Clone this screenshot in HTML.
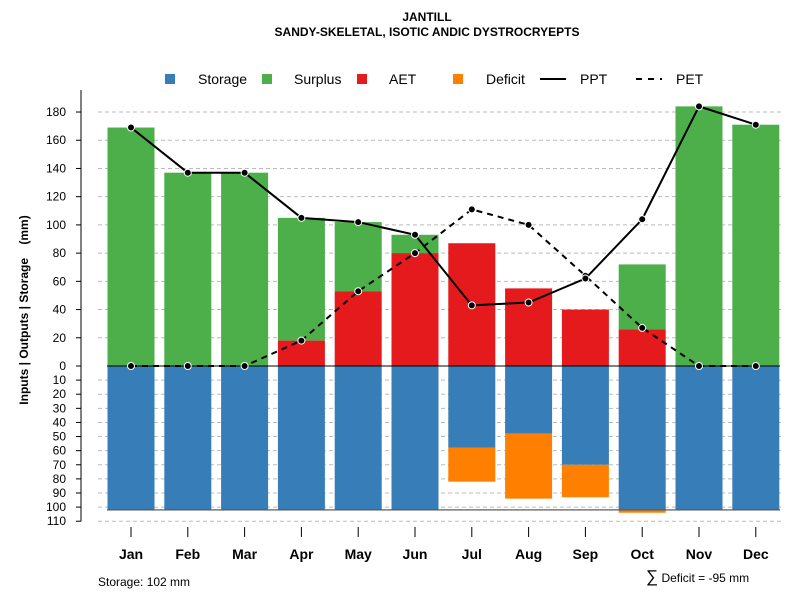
<!DOCTYPE html>
<html><head><meta charset="utf-8"><style>
body{margin:0;background:#fff;font-family:"Liberation Sans",sans-serif;}
svg text{font-family:"Liberation Sans",sans-serif;}
</style></head><body>
<svg id="c" width="800" height="600" xmlns="http://www.w3.org/2000/svg">
<text x="427" y="21" text-anchor="middle" font-size="12" font-weight="bold">JANTILL</text>
<text x="427" y="36" text-anchor="middle" font-size="12" font-weight="bold">SANDY-SKELETAL, ISOTIC ANDIC DYSTROCRYEPTS</text>
<g>
<rect x="165" y="74" width="10" height="10" fill="#377eb8"/>
<text x="198" y="84" font-size="14">Storage</text>
<rect x="262" y="74" width="10" height="10" fill="#4daf4a"/>
<text x="294" y="84" font-size="14">Surplus</text>
<rect x="357" y="74" width="10" height="10" fill="#e41a1c"/>
<text x="389" y="84" font-size="14">AET</text>
<rect x="453" y="74" width="10" height="10" fill="#ff7f00"/>
<text x="486" y="84" font-size="14">Deficit</text>
<line x1="540" y1="79" x2="566" y2="79" stroke="#000" stroke-width="2"/>
<text x="580" y="84" font-size="14">PPT</text>
<line x1="636" y1="79" x2="662" y2="79" stroke="#000" stroke-width="2" stroke-dasharray="6,6"/>
<text x="676" y="84" font-size="14">PET</text>
</g>
<text transform="translate(28,310) rotate(-90)" text-anchor="middle" font-size="12" font-weight="bold" xml:space="preserve" style="white-space:pre">Inputs | Outputs | Storage    (mm)</text>
<text x="98" y="586" font-size="12">Storage: 102 mm</text>
<text x="646" y="582" font-size="12"><tspan font-size="17">∑</tspan> Deficit = -95 mm</text>
<g id="g"></g>
</svg>
<script>
const months=["Jan","Feb","Mar","Apr","May","Jun","Jul","Aug","Sep","Oct","Nov","Dec"];
const ppt=[169,137,137,105,102,93,43,45,62,104,184,171];
const pet=[0,0,0,18,53,80,111,100,64,27,0,0];
const aet=[0,0,0,18,53,80,87,55,40,26,0,0];
const barTop=[169,137,137,105,102,93,87,55,40,72,184,171];
const storage=[102,102,102,102,102,102,58,48,70,102,102,102];
const deficit=[0,0,0,0,0,0,24,46,23,2,0,0];
const upTicks=[0,20,40,60,80,100,120,140,160,180];
const downTicks=[10,20,30,40,50,60,70,80,90,100,110];
const maxStorage=102;
const NS="http://www.w3.org/2000/svg";
const g=document.getElementById('g');
const y0=366,k=1.411;
const yU=v=>y0-v*k, yD=v=>y0+v*k;
const xc=i=>131+i*56.8, bw=47;
function mk(t,a,p){const e=document.createElementNS(NS,t);for(const q in a)e.setAttribute(q,a[q]);(p||g).appendChild(e);return e;}
upTicks.slice(1).forEach(v=>{const l=mk('line',{x1:98,x2:782,y1:yU(v),y2:yU(v),stroke:'#bbb','stroke-dasharray':'4,3'});

});
downTicks.forEach(v=>{const l=mk('line',{x1:98,x2:782,y1:yD(v),y2:yD(v),stroke:'#bbb','stroke-dasharray':'4,3'});

});
months.forEach((m,i)=>{
 const x=xc(i)-bw/2;
 let r=mk('rect',{x:x,y:yU(barTop[i]),width:bw,height:(barTop[i]-aet[i])*k,fill:'#4daf4a'});
 
 
 r=mk('rect',{x:x,y:yU(aet[i]),width:bw,height:aet[i]*k,fill:'#e41a1c'});
 
 
 r=mk('rect',{x:x,y:y0,width:bw,height:storage[i]*k,fill:'#377eb8'});
 
 
 r=mk('rect',{x:x,y:yD(storage[i]),width:bw,height:deficit[i]*k,fill:'#ff7f00'});
 
 
});
let ml=mk('line',{x1:107,x2:780,y1:yD(maxStorage),y2:yD(maxStorage),stroke:'#555','stroke-width':1.5,opacity:0.8});


let zl=mk('line',{x1:107,x2:780,y1:y0,y2:y0,stroke:'#000','stroke-width':1});


function series(arr,dash,name){
 const pl=mk('polyline',{points:arr.map((v,i)=>xc(i)+','+yU(v)).join(' '),fill:'none',stroke:'#000','stroke-width':2,'stroke-dasharray':dash});
 
 
 arr.forEach((v,i)=>{const c=mk('circle',{cx:xc(i),cy:yU(v),r:3.5,fill:'#000',stroke:'#fff','stroke-width':1});
 
 });
}
series(pet,'6,5','pet');
series(ppt,'none','ppt');
let ax=mk('line',{x1:81,x2:81,y1:90,y2:yD(110),stroke:'#000'});


upTicks.forEach(v=>{mk('line',{x1:76,x2:81,y1:yU(v),y2:yU(v),stroke:'#000'});
 const t=mk('text',{x:66,y:yU(v)+4,'text-anchor':'end','font-size':12});t.textContent=v;
 
 });
downTicks.forEach(v=>{mk('line',{x1:76,x2:81,y1:yD(v),y2:yD(v),stroke:'#000'});
 const t=mk('text',{x:66,y:yD(v)+4,'text-anchor':'end','font-size':12});t.textContent=v;
 
 });
months.forEach((m,i)=>{mk('line',{x1:xc(i),x2:xc(i),y1:527,y2:537,stroke:'#000'});
 const t=mk('text',{x:xc(i),y:559,'text-anchor':'middle','font-size':14,'font-weight':'bold'});t.textContent=m;
 
 });
</script>
</body></html>
